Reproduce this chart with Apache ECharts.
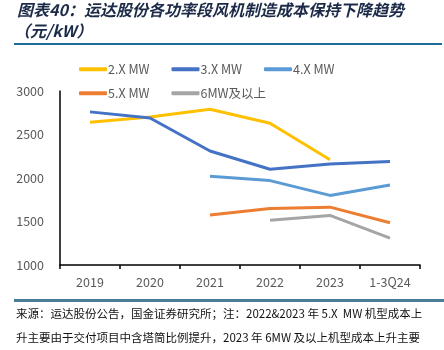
<!DOCTYPE html>
<html>
<head>
<meta charset="utf-8">
<script src="https://cdn.jsdelivr.net/npm/echarts@6/dist/echarts.min.js"></script>
<style>
  html, body { margin: 0; padding: 0; background: #fff; }
  #chart { width: 444px; height: 350px; }
</style>
</head>
<body>
<div id="chart"></div>
<script>
// 年份
const years = ["2019", "2020", "2021", "2022", "2023", "1-3Q24"];
// 各功率段成本（元/kW）
const mw2 = [2640, 2700, 2790, 2630, 2210, null];
const mw3 = [2760, 2690, 2310, 2100, 2160, 2190];
const mw4 = [null, null, 2020, 1970, 1800, 1920];
const mw5 = [null, null, 1575, 1650, 1665, 1485];
const mw6 = [null, null, null, 1515, 1570, 1310];
const seriesNames = ["2.X MW", "3.X MW", "4.X MW", "5.X MW", "6MW及以上"];
const colors = ["#FFC000", "#4472C4", "#5B9BD5", "#ED7D31", "#A5A5A5"];
const yTicks = [1000, 1500, 2000, 2500, 3000];

const myChart = echarts.init(document.getElementById("chart"));
const font = "'Noto Sans CJK SC', 'Open Sans', sans-serif";

function makeLine(name, data, color) {
  return {
    name: name,
    type: "line",
    data: data,
    symbol: "none",
    connectNulls: false,
    lineStyle: { width: 3, color: color },
    itemStyle: { color: color }
  };
}

const legendBase = {
  left: 74,
  itemWidth: 28, itemHeight: 4, itemGap: 22,
  icon: "roundRect",
  textStyle: { color: "#595959", fontSize: 12.5, padding: [0, 0, 0, -4] }
};

let option = {
  animation: false,
  textStyle: { fontFamily: font },
  graphic: [
    {
      type: "text", left: 17, top: 2,
      style: {
        text: "图表40：运达股份各功率段风机制造成本保持下降趋势",
        font: "italic bold 16px " + font, fill: "#1b2a47"
      }
    },
    {
      type: "text", left: 14, top: 23,
      style: {
        text: "（元/kW）",
        font: "italic bold 16px " + font, fill: "#1b2a47"
      }
    },
    { type: "rect", left: 14, top: 43, shape: { width: 428, height: 2 }, style: { fill: "#1F6A96" } },
    { type: "rect", left: 14, top: 299, shape: { width: 430, height: 3 }, style: { fill: "#4A7D98" } },
    {
      type: "text", left: 16, top: 308,
      style: {
        text: "来源：运达股份公告，国金证券研究所；注：2022&2023 年 5.X  MW 机型成本上",
        font: "11.5px " + font, fill: "#111"
      }
    },
    {
      type: "text", left: 16, top: 332,
      style: {
        text: "升主要由于交付项目中含塔筒比例提升，2023 年 6MW 及以上机型成本上升主要",
        font: "11.5px " + font, fill: "#111"
      }
    }
  ],
  legend: [
    Object.assign({ data: seriesNames.slice(0, 3), top: 58 }, legendBase),
    Object.assign({ data: seriesNames.slice(3), top: 82 }, legendBase)
  ],
  grid: { left: 60, right: 24, top: 91, bottom: 85, containLabel: false },
  xAxis: {
    type: "category",
    data: years,
    boundaryGap: true,
    axisLine: { lineStyle: { color: "#000", width: 1.5 } },
    axisTick: { show: true, length: 4, lineStyle: { color: "#000", width: 1.5 } },
    axisLabel: { color: "#595959", fontSize: 12.5, margin: 11 }
  },
  yAxis: {
    type: "value",
    min: yTicks[0],
    max: yTicks[yTicks.length - 1],
    interval: 500,
    axisLine: { show: true, lineStyle: { color: "#000", width: 1.5 } },
    axisTick: { show: false },
    splitLine: { show: false },
    axisLabel: { color: "#595959", fontSize: 12.5, margin: 16, formatter: v => String(v) }
  },
  series: [
    makeLine(seriesNames[0], mw2, colors[0]),
    makeLine(seriesNames[1], mw3, colors[1]),
    makeLine(seriesNames[2], mw4, colors[2]),
    makeLine(seriesNames[3], mw5, colors[3]),
    makeLine(seriesNames[4], mw6, colors[4])
  ]
};
myChart.setOption(option, true);
</script>
</body>
</html>
